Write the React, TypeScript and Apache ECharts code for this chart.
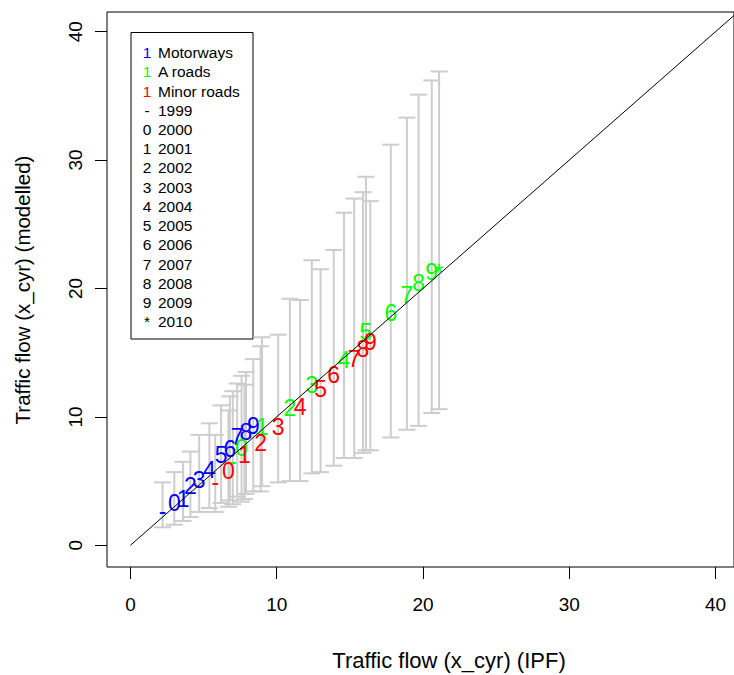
import React, { useEffect, useRef } from "react";
import * as echarts from "echarts";

// ---- data ----
const tickValues = [0, 10, 20, 30, 40];

const blueYears = ["-", "0", "1", "2", "3", "4", "5", "6", "7", "8", "9"];
const blueX = [2.2, 3.0, 3.6, 4.1, 4.7, 5.4, 6.2, 6.8, 7.3, 7.9, 8.4];
const blueY = [2.7, 3.3, 3.6, 4.6, 5.1, 5.9, 7.0, 7.5, 8.4, 8.8, 9.3];
const blueLo = [1.4, 1.6, 1.9, 2.2, 2.6, 2.9, 3.3, 3.5, 3.8, 4.0, 4.2];
const blueHi = [4.9, 5.7, 6.5, 7.3, 8.6, 9.5, 10.9, 11.6, 12.6, 13.5, 14.5];

const greenYears = ["-", "0", "1", "2", "3", "4", "5", "6", "7", "8", "9", "*"];
const greenX = [7.0, 7.6, 9.0, 10.9, 12.4, 14.6, 16.1, 17.8, 18.9, 19.7, 20.6, 21.1];
const greenY = [6.6, 7.6, 9.2, 10.7, 12.5, 14.4, 16.6, 18.1, 19.5, 20.4, 21.3, 21.2];
const greenLo = [3.2, 3.4, 4.6, 5.0, 5.6, 6.8, 7.4, 8.4, 9.0, 9.3, 10.3, 10.6];
const greenHi = [12.0, 13.2, 16.2, 19.2, 22.2, 25.9, 28.7, 31.2, 33.3, 35.1, 36.2, 36.9];

const redYears = ["-", "0", "1", "2", "3", "4", "5", "6", "7", "8", "9"];
const redX = [5.8, 6.7, 7.8, 8.9, 10.1, 11.6, 13.0, 13.9, 15.3, 15.9, 16.4];
const redY = [4.9, 5.8, 7.0, 8.0, 9.2, 10.8, 12.2, 13.3, 14.5, 15.3, 15.8];
const redLo = [2.6, 3.0, 3.6, 4.2, 4.9, 5.0, 5.7, 6.2, 6.8, 7.2, 7.4];
const redHi = [8.6, 10.5, 12.5, 15.5, 16.4, 19.1, 21.5, 23.0, 27.0, 27.5, 26.8];

const legendSymbols = ["1", "1", "1", "-", "0", "1", "2", "3", "4", "5", "6", "7", "8", "9", "*"];
const legendTexts = [
  "Motorways", "A roads", "Minor roads",
  "1999", "2000", "2001", "2002", "2003", "2004", "2005", "2006", "2007", "2008", "2009", "2010",
];
const legendColors = ["#0000FF", "#00FF00", "#FF0000"];

const BLUE = "#0000FF";
const GREEN = "#00FF00";
const RED = "#FF0000";
const FONT = "'Liberation Sans', Arial, sans-serif";

function barSeries(xs: number[], lo: number[], hi: number[]) {
  return {
    type: "custom",
    z: 1,
    silent: true,
    encode: { x: 0, y: [1, 2] },
    data: xs.map((x, i) => [x, lo[i], hi[i]]),
    renderItem: (params: any, api: any) => {
      const x = api.value(0);
      const pLo = api.coord([x, api.value(1)]);
      const pHi = api.coord([x, api.value(2)]);
      const cap = 8.5;
      const style = { stroke: "#CDCDCD", lineWidth: 2 };
      return {
        type: "group",
        children: [
          { type: "line", shape: { x1: pLo[0], y1: pLo[1], x2: pHi[0], y2: pHi[1] }, style },
          { type: "line", shape: { x1: pLo[0] - cap, y1: pLo[1], x2: pLo[0] + cap, y2: pLo[1] }, style },
          { type: "line", shape: { x1: pHi[0] - cap, y1: pHi[1], x2: pHi[0] + cap, y2: pHi[1] }, style },
        ],
      };
    },
  };
}

function labelSeries(xs: number[], ys: number[], chars: string[], color: string) {
  return {
    type: "custom",
    z: 2,
    silent: true,
    encode: { x: 0, y: 1 },
    data: xs.map((x, i) => [x, ys[i]]),
    renderItem: (params: any, api: any) => {
      const p = api.coord([api.value(0), api.value(1)]);
      return {
        type: "text",
        x: p[0],
        y: p[1],
        style: {
          text: chars[params.dataIndex],
          fill: color,
          fontSize: 23,
          fontFamily: FONT,
          align: "center",
          verticalAlign: "middle",
        },
      };
    },
  };
}

export default function App() {
  const ref = useRef<HTMLDivElement>(null);
  useEffect(() => {
    if (!ref.current) return;
    const chart = echarts.init(ref.current, null, { renderer: "svg" });

    const legendTop = 52.7;
    const legendStep = 19.21;
    const legendChildren: any[] = [
      {
        type: "rect",
        shape: { x: 131, y: 32.5, width: 122, height: 306.5 },
        style: { fill: "#fff", stroke: "#000", lineWidth: 1 },
      },
    ];
    legendTexts.forEach((t, i) => {
      const y = legendTop + i * legendStep;
      legendChildren.push({
        type: "text",
        x: 147,
        y,
        style: {
          text: legendSymbols[i],
          fill: i < 3 ? legendColors[i] : "#000",
          fontSize: 15.5,
          fontFamily: FONT,
          align: "center",
          verticalAlign: "middle",
        },
      });
      legendChildren.push({
        type: "text",
        x: 158,
        y,
        style: {
          text: t,
          fill: "#000",
          fontSize: 15.5,
          fontFamily: FONT,
          align: "left",
          verticalAlign: "middle",
        },
      });
    });

    chart.setOption({
      animation: false,
      backgroundColor: "#fff",
      grid: {
        left: 107,
        right: -2,
        top: 12,
        bottom: 108,
        show: true,
        borderColor: "#000",
        borderWidth: 1,
        backgroundColor: "transparent",
      },
      xAxis: {
        type: "value",
        min: -1.6,
        max: 41.26,
        splitLine: { show: false },
        axisLine: { show: false, onZero: false },
        axisTick: {
          show: true,
          customValues: tickValues,
          length: 12,
          lineStyle: { color: "#000", width: 1 },
        },
        axisLabel: {
          customValues: tickValues,
          margin: 28,
          fontSize: 19,
          fontFamily: FONT,
          color: "#000",
        },
      },
      yAxis: {
        type: "value",
        min: -1.69,
        max: 41.53,
        splitLine: { show: false },
        axisLine: { show: false, onZero: false },
        axisTick: {
          show: true,
          customValues: tickValues,
          length: 12,
          lineStyle: { color: "#000", width: 1 },
        },
        axisLabel: {
          customValues: tickValues,
          rotate: 90,
          margin: 22,
          fontSize: 19,
          fontFamily: FONT,
          color: "#000",
        },
      },
      series: [
        barSeries(blueX, blueLo, blueHi),
        barSeries(greenX, greenLo, greenHi),
        barSeries(redX, redLo, redHi),
        labelSeries(blueX, blueY, blueYears, BLUE),
        labelSeries(greenX, greenY, greenYears, GREEN),
        labelSeries(redX, redY, redYears, RED),
        {
          type: "line",
          z: 3,
          silent: true,
          symbol: "none",
          clip: true,
          data: [
            [0, 0],
            [50, 50],
          ],
          lineStyle: { color: "#000", width: 1 },
        },
      ],
      graphic: [
        {
          type: "text",
          x: 449,
          y: 660,
          style: {
            text: "Traffic flow (x_cyr) (IPF)",
            fill: "#000",
            fontSize: 22,
            fontFamily: FONT,
            align: "center",
            verticalAlign: "middle",
          },
        },
        {
          type: "text",
          x: 22,
          y: 290,
          rotation: Math.PI / 2,
          style: {
            text: "Traffic flow (x_cyr) (modelled)",
            fill: "#000",
            fontSize: 20.5,
            fontFamily: FONT,
            align: "center",
            verticalAlign: "middle",
          },
        },
        { type: "group", children: legendChildren },
      ],
    });
    return () => chart.dispose();
  }, []);
  return (
    <div
      ref={ref}
      style={{ position: "fixed", left: 0, top: 0, width: 734, height: 675, background: "#fff" }}
    />
  );
}
